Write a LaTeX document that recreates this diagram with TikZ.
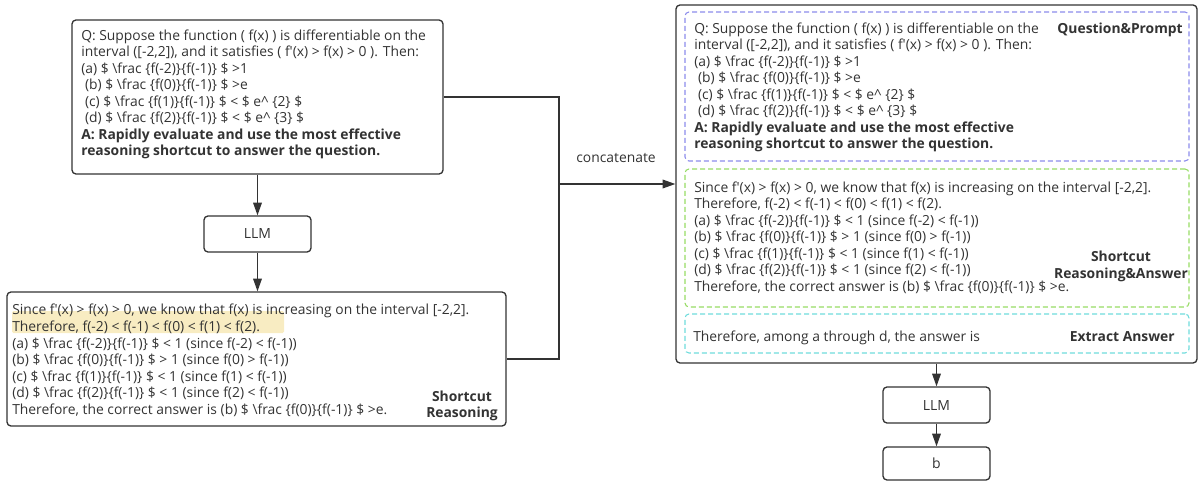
\documentclass[tikz,border=0pt]{standalone}
\usepackage{fontspec}
\setmainfont{Open Sans}
\usetikzlibrary{arrows.meta}
\definecolor{ln}{HTML}{333333}
\definecolor{bluedash}{RGB}{140,140,235}
\definecolor{greendash}{RGB}{150,220,100}
\definecolor{cyandash}{RGB}{110,220,220}
\definecolor{hl}{HTML}{F8ECC2}
\newcommand\bs{\textbackslash}
\newcommand\qt{\textquotesingle}
\newcommand\ca{\textasciicircum}
\newcommand\ind{\hspace*{0.27em}}
\newcommand\st{\rule{0pt}{9pt}}
\newcommand\fs{\fontsize{10.4}{12.4}\selectfont}
\newcommand\qtext{\st Q: Suppose the function ( f(x) ) is differentiable on the\\
interval ([-2,2]), and it satisfies ( f\qt(x) > f(x) > 0 ). Then:\\
(a) \$ \bs frac \{f(-2)\}\{f(-1)\} \$ >1\\
\ind(b) \$ \bs frac \{f(0)\}\{f(-1)\} \$ >e\\
\ind(c) \$ \bs frac \{f(1)\}\{f(-1)\} \$ < \$ e\ca\ \{2\} \$\\
\ind(d) \$ \bs frac \{f(2)\}\{f(-1)\} \$ < \$ e\ca\ \{3\} \$\\
\textbf{A: Rapidly evaluate and use the most effective}\\
\textbf{reasoning shortcut to answer the question.}}
\newcommand\rtext{\st Since f\qt(x) > f(x) > 0, we know that f(x) is increasing on the interval [-2,2].\\
Therefore, f(-2) < f(-1) < f(0) < f(1) < f(2).\\
(a) \$ \bs frac \{f(-2)\}\{f(-1)\} \$ < 1 (since f(-2) < f(-1))\\
(b) \$ \bs frac \{f(0)\}\{f(-1)\} \$ > 1 (since f(0) > f(-1))\\
(c) \$ \bs frac \{f(1)\}\{f(-1)\} \$ < 1 (since f(1) < f(-1))\\
(d) \$ \bs frac \{f(2)\}\{f(-1)\} \$ < 1 (since f(2) < f(-1))\\
Therefore, the correct answer is (b) \$ \bs frac \{f(0)\}\{f(-1)\} \$ >e.}
\begin{document}
\begin{tikzpicture}[x=0.75pt,y=-0.75pt,
  box/.style={draw=ln, line width=1pt, rounded corners=3pt, inner sep=0pt},
  dbox/.style={line width=0.8pt, dash pattern=on 3.75pt off 2.25pt, rounded corners=3pt, inner sep=0pt},
  txt/.style={anchor=north west, inner sep=0pt, align=left, font=\fs, text=ln},
  lbl/.style={inner sep=0pt, align=center, font=\fs\bfseries, text=ln},
  llmbox/.style={box, minimum width=80.25pt, minimum height=27pt, font=\fontsize{10.5}{12}\selectfont, text=ln},
  conn/.style={draw=ln, line width=0.9pt},
  arr/.style={conn, -{Triangle[length=9.5pt, width=6.5pt]}}]
\useasboundingbox (0,0) rectangle (1198,481);
% left column
\node[box, minimum width=278.25pt, minimum height=115.5pt] (q1) at (257.5,97) {};
\node[txt] (q1t) at (81,28) {\qtext};
\node[llmbox] (llm1) at (257.5,234) {LLM};
\node[box, minimum width=374.25pt, minimum height=100.5pt] (r1) at (256.5,359) {};
\fill[hl, rounded corners=1pt] (12,311) rectangle (284,333);
\node[txt] (r1t) at (12,302.7) {\rtext};
\node[lbl, anchor=north] (r1l) at (462,389) {\st Shortcut\\Reasoning};
% right column
\node[box, minimum width=390.75pt, minimum height=268.5pt] (big) at (936.5,184) {};
\node[dbox, draw=bluedash, minimum width=378pt, minimum height=111.75pt] (qp) at (937,86.5) {};
\node[txt] (qpt) at (694,21) {\qtext};
\node[lbl, anchor=north east] (qpl) at (1183,21) {\st Question\&Prompt};
\node[dbox, draw=greendash, minimum width=378pt, minimum height=103.5pt] (sr) at (937,238) {};
\node[txt] (srt) at (694,180) {\rtext};
\node[lbl, anchor=north] (srl) at (1121,249.6) {\st Shortcut\\Reasoning\&Answer};
\node[dbox, draw=cyandash, minimum width=378pt, minimum height=29.25pt] (ea) at (937,333.5) {};
\node[txt] (eat) at (693,329) {\st Therefore, among a through d, the answer is};
\node[lbl, anchor=north east] (eal) at (1175,329) {\st Extract Answer};
\node[llmbox] (llm2) at (936.5,405) {LLM};
\node[llmbox, minimum height=24.75pt] (b) at (936.5,463.5) {b};
% connectors
\coordinate (j) at (559,184);
\draw[arr] (q1.south -| llm1.north) -- (llm1.north);
\draw[arr] (llm1.south) -- (llm1.south |- r1.north);
\draw[conn] (q1.east) -| (j) |- (r1.east);
\draw[arr] (j) -- (big.west);
\node[inner sep=0pt, font=\fs, text=ln] (cat) at (616,158) {concatenate};
\draw[arr] (big.south -| llm2.north) -- (llm2.north);
\draw[arr] (llm2.south) -- (b.north);
\end{tikzpicture}
\end{document}
